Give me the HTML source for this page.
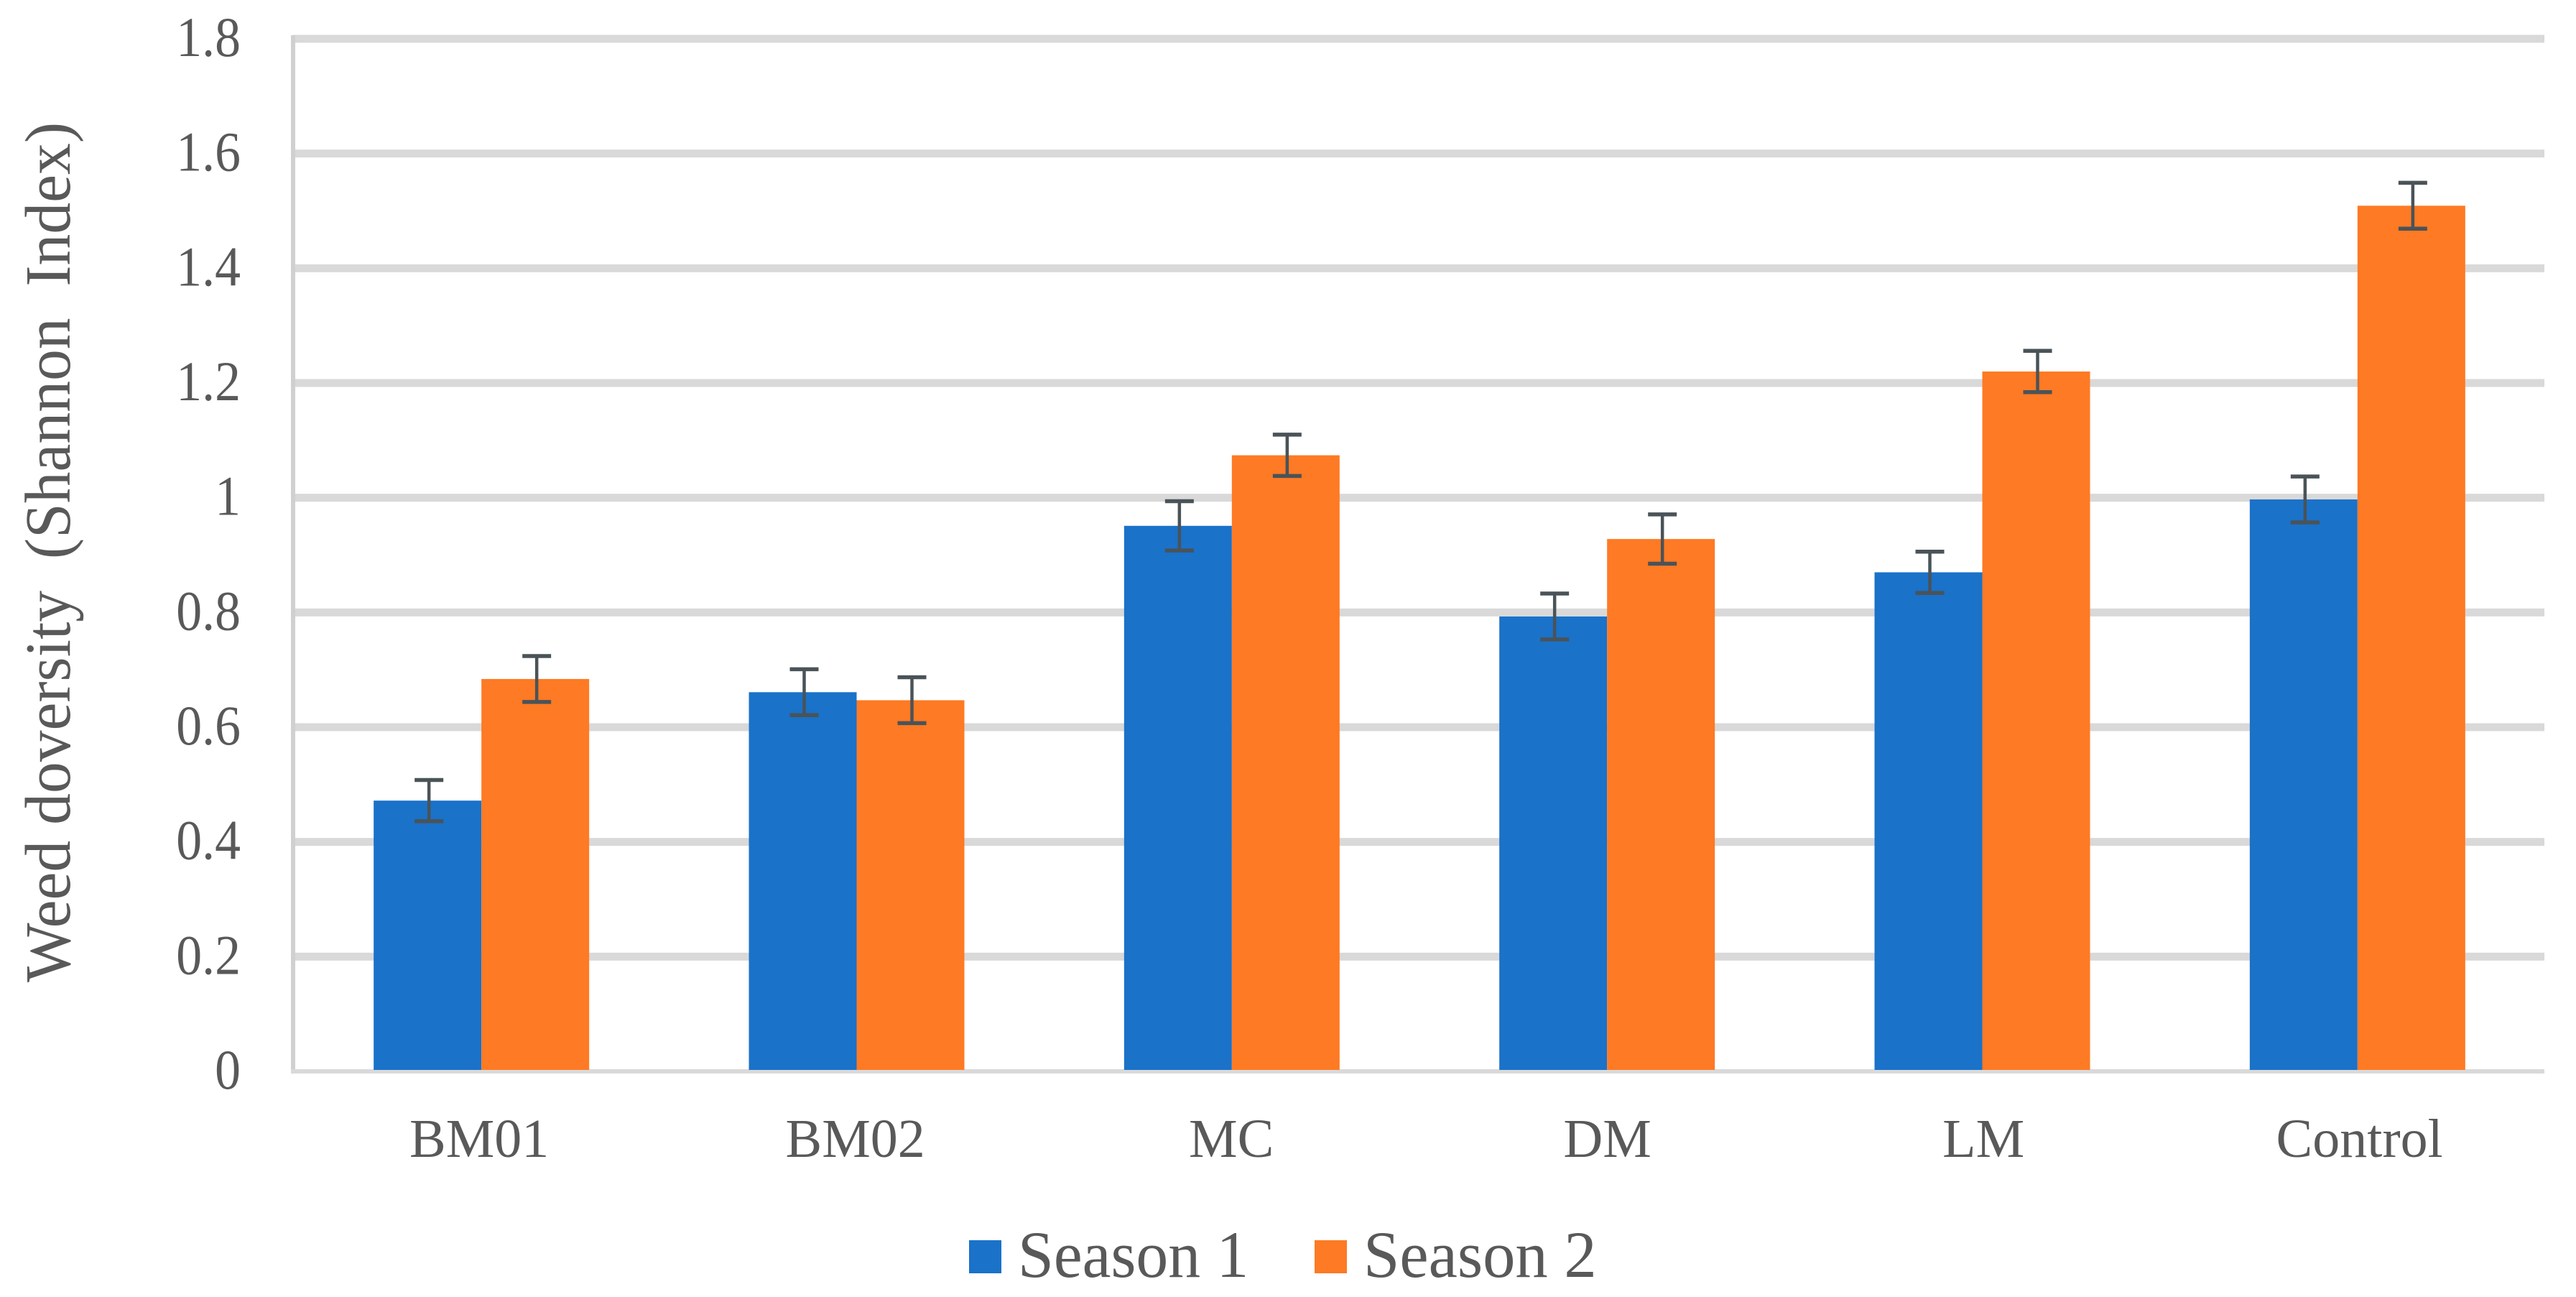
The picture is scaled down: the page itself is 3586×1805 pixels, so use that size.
<!DOCTYPE html>
<html lang="en">
<head>
<meta charset="utf-8">
<title>Weed diversity chart</title>
<style>
  html, body { margin: 0; padding: 0; background: #ffffff; width: 3586px; height: 1805px; overflow: hidden; }
  svg { display: block; }
  text { font-family: "Liberation Serif", "Times New Roman", serif; fill: #595959; }
</style>
</head>
<body>
<svg id="chart" xmlns="http://www.w3.org/2000/svg" width="3586" height="1805" viewBox="0 0 3586 1805">
  <rect x="0" y="0" width="3586" height="1805" fill="#ffffff"/>
  <g id="grid"></g>
  <g id="axes"></g>
  <g id="bars"></g>
  <g id="errors"></g>
  <g id="yticks"></g>
  <g id="xticks"></g>
  <text transform="translate(97,1367) rotate(-90)" font-size="90" textLength="1197" lengthAdjust="spacingAndGlyphs" xml:space="preserve">Weed doversity  (Shannon  Index)</text>
  <g>
    <g>
      <rect x="1349" y="1726" width="45" height="46" fill="#1a72c9"/>
      <text transform="translate(1417,1777) scale(0.975,1)" font-size="92">Season 1</text>
    </g>
    <g>
      <rect x="1830" y="1726" width="45" height="46" fill="#fe7a24"/>
      <text transform="translate(1898,1777) scale(0.985,1)" font-size="92">Season 2</text>
    </g>
  </g>
</svg>
<script>
const categories = ['BM01', 'BM02', 'MC', 'DM', 'LM', 'Control'];
const season1 = [0.472, 0.661, 0.951, 0.793, 0.870, 0.997];
const season2 = [0.684, 0.647, 1.074, 0.928, 1.220, 1.509];
const season1Err = [0.036, 0.040, 0.043, 0.040, 0.036, 0.040];
const season2Err = [0.040, 0.040, 0.036, 0.043, 0.036, 0.040];
const yTickValues = [0, 0.2, 0.4, 0.6, 0.8, 1, 1.2, 1.4, 1.6, 1.8];
const yTickLabels = ['0', '0.2', '0.4', '0.6', '0.8', '1', '1.2', '1.4', '1.6', '1.8'];

const NS = 'http://www.w3.org/2000/svg';
const plotLeft = 408, plotRight = 3542, plotBottom = 1491, plotTop = 54, yMax = 1.8;
const barWidth = 150, capHalf = 20, labelSpacing = 523.5;
const yScale = function (v) { return plotBottom - (v / yMax) * (plotBottom - plotTop); };
const bandWidth = (plotRight - plotLeft) / categories.length;
const xCenter = function (i) { return plotLeft + bandWidth * (i + 0.5) + 1; };
const labelX = function (i) { return xCenter(0) - 3 + labelSpacing * i; };

function make(tag, parentId, attrs) {
  const el = document.createElementNS(NS, tag);
  Object.keys(attrs).forEach(function (k) { el.setAttribute(k, attrs[k]); });
  document.getElementById(parentId).appendChild(el);
  return el;
}

yTickValues.forEach(function (v, i) {
  if (v === 0) return;
  const line = make('rect', 'grid', { x: plotLeft, y: yScale(v) - 5.5, width: plotRight - plotLeft, height: 11, fill: '#d9d9d9' });
  
  
});

const yAxisLine = make('rect', 'axes', { x: 405, y: plotTop - 5, width: 6, height: plotBottom - plotTop + 8, fill: '#d0d0d0' });


const xAxisLine = make('rect', 'axes', { x: 405, y: plotBottom - 3, width: plotRight - 405, height: 6, fill: '#d9d9d9' });



yTickLabels.forEach(function (label, i) {
  const t = make('text', 'yticks', { transform: 'translate(335,' + (yScale(yTickValues[i]) + 24) + ') scale(0.92,1)', 'font-size': 78, 'text-anchor': 'end' });
  t.textContent = label;
  
  
});

function drawSeries(values, errs, side, color, seriesName) {
  values.forEach(function (v, i) {
    const cx = xCenter(i);
    const x0 = side < 0 ? cx - barWidth : cx;
    const top = yScale(v);
    const bar = make('rect', 'bars', { x: x0, y: top, width: barWidth, height: plotBottom - 2 - top, fill: color });
    
    
    bar.setAttribute('aria-label', seriesName + ' ' + categories[i]);

    const mx = x0 + barWidth / 2 + 2;
    const hi = yScale(v + errs[i]);
    const lo = yScale(v - errs[i]);
    const stem = make('line', 'errors', { x1: mx, x2: mx, y1: hi, y2: lo, stroke: '#4a5358', 'stroke-width': 4.5 });
    
    
    const capTop = make('line', 'errors', { x1: mx - capHalf, x2: mx + capHalf, y1: hi, y2: hi, stroke: '#4a5358', 'stroke-width': 5.5 });
    
    
    const capLow = make('line', 'errors', { x1: mx - capHalf, x2: mx + capHalf, y1: lo, y2: lo, stroke: '#4a5358', 'stroke-width': 5.5 });
    
    
  });
}
drawSeries(season1, season1Err, -1, '#1a72c9', 'Season 1');
drawSeries(season2, season2Err, 1, '#fe7a24', 'Season 2');

categories.forEach(function (c, i) {
  const t = make('text', 'xticks', { x: labelX(i), y: 1610, 'font-size': 76, 'text-anchor': 'middle' });
  t.textContent = c;
  
  
});
</script>
</body>
</html>
